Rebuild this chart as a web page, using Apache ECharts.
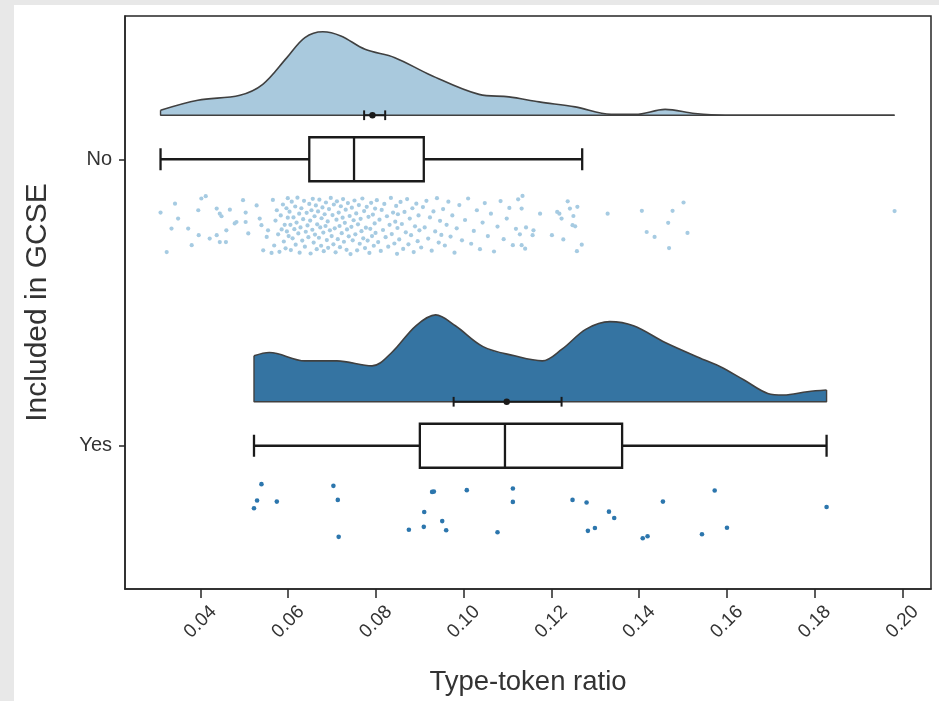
<!DOCTYPE html>
<html>
<head>
<meta charset="utf-8">
<script src="https://cdn.jsdelivr.net/npm/echarts@6/dist/echarts.min.js"></script>
<style>
  html, body { margin: 0; padding: 0; background: #e8e8e8; width: 939px; height: 701px; overflow: hidden; }
  #chart { position: absolute; left: 14px; top: 5px; width: 925px; height: 696px; background: #ffffff; }
</style>
</head>
<body>
<div id="chart"></div>
<script>
// Groups on the vertical axis
const categories = ['No', 'Yes'];

// Tick positions on the type-token ratio axis
const xTicks = [0.04, 0.06, 0.08, 0.10, 0.12, 0.14, 0.16, 0.18, 0.20];

// Half-violin (density) outline for each group: ratio values and relative density heights
const cloudNoX = [0.0309, 0.0394, 0.0490, 0.0542, 0.0597, 0.0638, 0.0679, 0.0720, 0.0775, 0.0843,
                  0.0925, 0.1035, 0.1103, 0.1172, 0.1254, 0.1336, 0.1391, 0.1459, 0.1527, 0.1596,
                  0.1800, 0.1982];
const cloudNoD = [0.06, 0.18, 0.24, 0.37, 0.69, 0.93, 1.00, 0.95, 0.79, 0.69,
                  0.48, 0.25, 0.22, 0.16, 0.10, 0.01, 0.01, 0.07, 0.02, 0.00,
                  0.00, 0.00];
const cloudYesX = [0.0522, 0.0557, 0.0638, 0.0711, 0.0791, 0.0836, 0.0891, 0.0936, 0.0981, 0.1044,
                   0.1116, 0.1179, 0.1224, 0.1279, 0.1333, 0.1387, 0.1459, 0.1549, 0.1585, 0.1639,
                   0.1693, 0.1729, 0.1783, 0.1827];
const cloudYesD = [0.55, 0.59, 0.49, 0.49, 0.43, 0.59, 0.91, 1.04, 0.91, 0.66,
                   0.55, 0.49, 0.63, 0.87, 0.96, 0.91, 0.71, 0.50, 0.42, 0.26,
                   0.10, 0.08, 0.12, 0.14];

// Box statistics: lower whisker, Q1, median, Q3, upper whisker
const boxNo = [0.0309, 0.0648, 0.0750, 0.0909, 0.1270];
const boxYes = [0.0522, 0.0900, 0.1094, 0.1361, 0.1827];

// Mean with confidence interval: lower, mean, upper
const meanNo = [0.0773, 0.0792, 0.0821];
const meanYes = [0.0977, 0.1098, 0.1223];

// Individual texts: [type-token ratio, vertical jitter]
const rainNo = [
  [0.0309,0.186],[0.0342,0.155],[0.0323,0.324],[0.0334,0.242],[0.0349,0.207],[0.0380,0.300],[0.0372,0.242],
  [0.0395,0.178],[0.0402,0.137],[0.0412,0.129],[0.0396,0.265],[0.0421,0.277],[0.0437,0.172],[0.0444,0.190],
  [0.0448,0.199],[0.0437,0.265],[0.0444,0.289],[0.0459,0.248],[0.0458,0.289],[0.0467,0.176],[0.0482,0.219],
  [0.0478,0.224],[0.0497,0.143],[0.0503,0.186],[0.0509,0.259],[0.0503,0.219],[0.0528,0.161],[0.0535,0.207],
  [0.0539,0.230],[0.0543,0.318],[0.0562,0.327],[0.0551,0.271],[0.0554,0.248],
  [0.0565,0.142],[0.0568,0.301],[0.0571,0.214],[0.0574,0.178],[0.0577,0.262],[0.0580,0.323],[0.0583,0.196],
  [0.0585,0.245],[0.0588,0.158],[0.0590,0.287],[0.0592,0.229],[0.0594,0.311],[0.0596,0.171],[0.0597,0.252],
  [0.0599,0.204],[0.0599,0.136],
  [0.0601,0.268],[0.0603,0.183],[0.0605,0.229],[0.0606,0.317],[0.0608,0.148],[0.0610,0.276],[0.0612,0.203],
  [0.0614,0.244],[0.0616,0.165],[0.0617,0.298],[0.0619,0.221],[0.0621,0.134],[0.0623,0.259],[0.0625,0.190],
  [0.0626,0.326],[0.0628,0.238],[0.0630,0.171],[0.0632,0.284],[0.0634,0.209],[0.0636,0.145],[0.0638,0.305],
  [0.0640,0.253],[0.0642,0.187],[0.0644,0.231],[0.0646,0.272],[0.0648,0.156],
  [0.0650,0.214],[0.0651,0.329],[0.0653,0.178],[0.0655,0.246],[0.0656,0.138],[0.0658,0.291],[0.0660,0.199],
  [0.0661,0.263],[0.0663,0.161],[0.0665,0.314],[0.0666,0.227],[0.0668,0.182],[0.0670,0.274],[0.0671,0.141],
  [0.0673,0.238],[0.0675,0.302],[0.0676,0.206],[0.0678,0.168],[0.0680,0.256],[0.0681,0.321],[0.0683,0.192],
  [0.0685,0.233],[0.0686,0.151],[0.0688,0.282],[0.0690,0.217],[0.0691,0.309],[0.0693,0.174],[0.0695,0.248],
  [0.0697,0.135],[0.0699,0.268],
  [0.0701,0.195],[0.0703,0.297],[0.0704,0.158],[0.0706,0.241],[0.0708,0.325],[0.0710,0.211],[0.0711,0.147],
  [0.0713,0.279],[0.0715,0.186],[0.0717,0.233],[0.0718,0.307],[0.0720,0.164],[0.0722,0.258],[0.0724,0.204],
  [0.0725,0.139],[0.0727,0.288],[0.0729,0.222],[0.0731,0.176],[0.0733,0.316],[0.0734,0.245],[0.0736,0.153],
  [0.0738,0.269],[0.0740,0.198],[0.0742,0.331],[0.0744,0.236],[0.0745,0.169],[0.0747,0.283],[0.0749,0.213],
  [0.0751,0.144],[0.0753,0.262],[0.0755,0.189],[0.0757,0.318],[0.0759,0.227],[0.0761,0.160],[0.0763,0.295],
  [0.0765,0.208],[0.0767,0.251],[0.0769,0.137],[0.0771,0.276],[0.0773,0.181],[0.0775,0.310],[0.0777,0.239],
  [0.0779,0.166],[0.0781,0.284],[0.0783,0.201],[0.0785,0.327],[0.0787,0.243],[0.0789,0.152],[0.0791,0.268],
  [0.0793,0.193],[0.0795,0.302],[0.0797,0.224],[0.0798,0.172],[0.0799,0.257],
  [0.0802,0.143],[0.0805,0.289],[0.0808,0.211],[0.0811,0.320],[0.0813,0.177],[0.0816,0.247],[0.0819,0.156],
  [0.0822,0.272],[0.0825,0.199],[0.0828,0.305],[0.0831,0.229],[0.0834,0.135],[0.0836,0.261],[0.0839,0.186],
  [0.0842,0.294],[0.0844,0.218],[0.0846,0.163],[0.0848,0.330],[0.0849,0.240],[0.0850,0.192],
  [0.0853,0.280],[0.0856,0.149],[0.0859,0.226],[0.0862,0.313],[0.0865,0.184],[0.0868,0.255],[0.0871,0.139],
  [0.0874,0.297],[0.0877,0.207],[0.0880,0.265],[0.0883,0.171],[0.0886,0.324],[0.0889,0.234],[0.0892,0.155],
  [0.0895,0.286],[0.0897,0.196],[0.0899,0.248],
  [0.0903,0.308],[0.0907,0.167],[0.0911,0.238],[0.0915,0.145],[0.0919,0.277],[0.0923,0.203],[0.0927,0.319],
  [0.0931,0.182],[0.0935,0.252],[0.0939,0.136],[0.0943,0.291],[0.0946,0.215],[0.0949,0.264],
  [0.0953,0.174],[0.0957,0.301],[0.0961,0.229],[0.0965,0.148],[0.0970,0.270],[0.0974,0.196],[0.0979,0.326],
  [0.0984,0.241],[0.0990,0.160],[0.0996,0.283],
  [0.1003,0.212],[0.1010,0.137],[0.1017,0.295],[0.1023,0.250],[0.1030,0.178],[0.1037,0.314],[0.1043,0.221],
  [0.1048,0.153],[0.1055,0.268],[0.1062,0.190],[0.1069,0.322],[0.1077,0.235],[0.1084,0.146],[0.1091,0.279],
  [0.1098,0.207],[0.1104,0.170],[0.1112,0.300],[0.1119,0.243],[0.1124,0.140],[0.1128,0.262],
  [0.1134,0.128],[0.1132,0.172],[0.1142,0.238],[0.1159,0.248],[0.1157,0.265],[0.1174,0.190],[0.1132,0.300],
  [0.1140,0.312],[0.1213,0.184],[0.1218,0.190],[0.1237,0.147],[0.1242,0.172],[0.1259,0.166],[0.1250,0.198],
  [0.1223,0.207],[0.1248,0.230],[0.1254,0.234],[0.1201,0.265],[0.1227,0.280],[0.1269,0.298],[0.1258,0.321],
  [0.1328,0.190],[0.1406,0.180],[0.1476,0.180],[0.1501,0.151],[0.1466,0.222],[0.1417,0.254],[0.1435,0.271],
  [0.1510,0.257],[0.1468,0.310],[0.1982,0.181]
];
const rainYes = [
  [0.0539,0.134],[0.0529,0.191],[0.0574,0.195],[0.0522,0.218],[0.0703,0.140],[0.0713,0.189],[0.0715,0.318],
  [0.0928,0.161],[0.0932,0.160],[0.1007,0.155],[0.0910,0.231],[0.0951,0.263],[0.0875,0.293],[0.0909,0.283],
  [0.0960,0.295],[0.1077,0.302],[0.1112,0.149],[0.1112,0.196],[0.1248,0.189],[0.1280,0.198],[0.1331,0.230],
  [0.1343,0.252],[0.1283,0.297],[0.1299,0.287],[0.1408,0.323],[0.1419,0.316],[0.1454,0.195],[0.1572,0.156],
  [0.1543,0.309],[0.1600,0.286],[0.1827,0.214]
];

// Layout of one raincloud row, in category units
const CLOUD_OFFSET = -0.1536;   // baseline of the half violin
const CLOUD_SCALE = 0.2914;     // height of a unit density
const BOX_HALF = 0.0768;
const CAP_HALF = 0.0384;
const CI_CAP_HALF = 0.017;

const INK = '#1a1a1a';
const EDGE = '#404040';
const FONT = '"Liberation Sans", Arial, sans-serif';
const cloudColors = ['#a9c9dd', '#3574a2'];
const rainColors = ['#a6cbe2', '#2c76ad'];

function cloudSeries(xs, ds, idx) {
  const base = idx + CLOUD_OFFSET;
  const pts = xs.map((x, i) => [x, base - ds[i] * CLOUD_SCALE]);
  const n = pts.length - 1;
  return [
    {
      type: 'line', data: pts, smooth: 0.35, symbol: 'none', z: 1,
      lineStyle: { color: EDGE, width: 1.6 },
      areaStyle: { color: cloudColors[idx], opacity: 1, origin: base }
    },
    {
      type: 'line', symbol: 'none', z: 2,
      data: [pts[0], [xs[0], base], [xs[n], base], pts[n]],
      lineStyle: { color: EDGE, width: 1.4 }
    }
  ];
}

function boxRender(params, api) {
  const c = api.value(0);
  const lo = api.value(1), q1 = api.value(2), md = api.value(3), q3 = api.value(4), hi = api.value(5);
  const P = (x, y) => api.coord([x, y]);
  const st = { stroke: INK, lineWidth: 2.3, fill: null };
  const line = (a, b) => ({ type: 'line', shape: { x1: a[0], y1: a[1], x2: b[0], y2: b[1] }, style: st });
  const tl = P(q1, c - BOX_HALF), br = P(q3, c + BOX_HALF);
  return {
    type: 'group',
    children: [
      line(P(lo, c), P(q1, c)),
      line(P(q3, c), P(hi, c)),
      line(P(lo, c - CAP_HALF), P(lo, c + CAP_HALF)),
      line(P(hi, c - CAP_HALF), P(hi, c + CAP_HALF)),
      { type: 'rect', shape: { x: tl[0], y: tl[1], width: br[0] - tl[0], height: br[1] - tl[1] },
        style: { fill: '#ffffff', stroke: INK, lineWidth: 2.3 } },
      line(P(md, c - BOX_HALF), P(md, c + BOX_HALF))
    ]
  };
}

function meanRender(params, api) {
  const c = api.value(0) + CLOUD_OFFSET;
  const lo = api.value(1), m = api.value(2), hi = api.value(3);
  const P = (x, y) => api.coord([x, y]);
  const st = { stroke: INK, lineWidth: 2, fill: null };
  const line = (a, b) => ({ type: 'line', shape: { x1: a[0], y1: a[1], x2: b[0], y2: b[1] }, style: st });
  const pm = P(m, c);
  return {
    type: 'group',
    children: [
      line(P(lo, c), P(hi, c)),
      line(P(lo, c - CI_CAP_HALF), P(lo, c + CI_CAP_HALF)),
      line(P(hi, c - CI_CAP_HALF), P(hi, c + CI_CAP_HALF)),
      { type: 'circle', shape: { cx: pm[0], cy: pm[1], r: 3.2 }, style: { fill: INK } }
    ]
  };
}

const chart = echarts.init(document.getElementById('chart'), null, { renderer: 'canvas' });
chart.setOption({
  animation: false,
  backgroundColor: '#ffffff',
  textStyle: { fontFamily: FONT },
  grid: {
    left: 111, top: 11, width: 806, height: 573, show: true,
    containLabel: false, outerBoundsMode: 'none',
    borderColor: '#262626', borderWidth: 1.5
  },
  xAxis: {
    type: 'value', min: 0.0228, max: 0.2065,
    axisLine: { show: true, onZero: false, lineStyle: { color: '#262626', width: 1.5 } },
    axisTick: { show: true, customValues: xTicks, length: 9, lineStyle: { color: '#262626', width: 1.5 } },
    axisLabel: {
      customValues: xTicks, formatter: v => v.toFixed(2), rotate: 45,
      align: 'center', verticalAlign: 'middle', margin: 33,
      fontSize: 19, color: '#333333', fontFamily: FONT
    },
    splitLine: { show: false },
    name: 'Type-token ratio', nameLocation: 'middle', nameGap: 79,
    nameTextStyle: { fontSize: 27.5, color: '#333333', fontFamily: FONT }
  },
  yAxis: {
    type: 'value', min: -0.5, max: 1.5, inverse: true,
    axisLine: { show: true, onZero: false, lineStyle: { color: '#262626', width: 1.5 } },
    axisTick: { show: true, customValues: [0, 1], length: 6, lineStyle: { color: '#262626', width: 1.5 } },
    axisLabel: {
      customValues: [0, 1], formatter: v => categories[Math.round(v)] || '',
      margin: 13, fontSize: 20, color: '#333333', fontFamily: FONT
    },
    splitLine: { show: false },
    name: 'Included in GCSE', nameLocation: 'middle', nameGap: 72, nameRotate: 90,
    nameTextStyle: { fontSize: 30, color: '#333333', fontFamily: FONT }
  },
  series: [
    ...cloudSeries(cloudNoX, cloudNoD, 0),
    ...cloudSeries(cloudYesX, cloudYesD, 1),
    {
      type: 'scatter', z: 3, symbolSize: 4.2,
      data: rainNo.map(([v, j]) => [v, 0 + j]),
      itemStyle: { color: rainColors[0], opacity: 1 }
    },
    {
      type: 'scatter', z: 3, symbolSize: 4.6,
      data: rainYes.map(([v, j]) => [v, 1 + j]),
      itemStyle: { color: rainColors[1], opacity: 1 }
    },
    {
      type: 'custom', z: 5, renderItem: boxRender,
      encode: { x: [1, 2, 3, 4, 5], y: 0 },
      data: [[0, ...boxNo], [1, ...boxYes]]
    },
    {
      type: 'custom', z: 6, renderItem: meanRender,
      encode: { x: [1, 2, 3], y: 0 },
      data: [[0, ...meanNo], [1, ...meanYes]]
    }
  ]
});
</script>
</body>
</html>
